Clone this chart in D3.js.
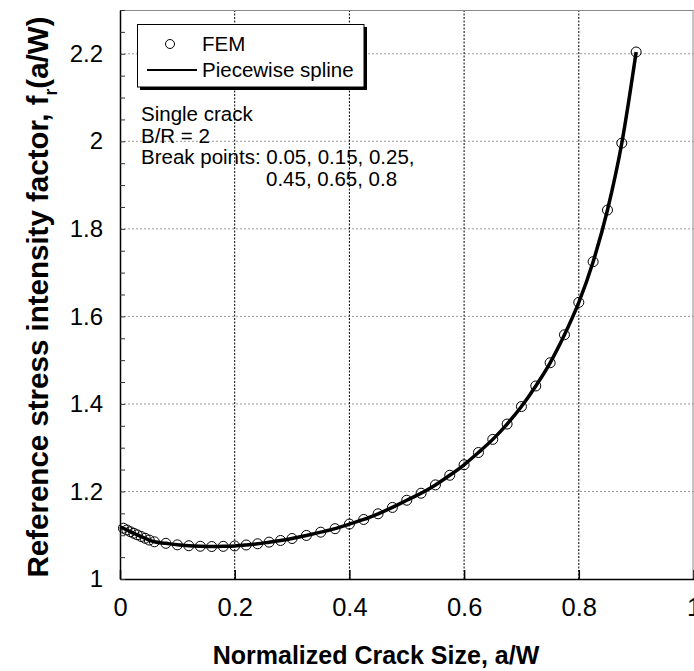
<!DOCTYPE html>
<html>
<head>
<meta charset="utf-8">
<script src="https://cdn.jsdelivr.net/npm/d3@7/dist/d3.min.js"></script>
<style>
  html, body { margin: 0; padding: 0; background: #fff; }
  svg { display: block; font-family: "Liberation Sans", Arial, sans-serif; }
</style>
</head>
<body>
<svg id="chart" width="694" height="671"></svg>
<script>
// FEM results: normalized crack size a/W and reference SIF f_r(a/W)
const femX = [0.006, 0.012, 0.018, 0.024, 0.03, 0.037, 0.044, 0.051, 0.06,
  0.08, 0.10, 0.12, 0.14, 0.16, 0.18, 0.20, 0.22, 0.24, 0.26, 0.28, 0.30,
  0.325, 0.35, 0.375, 0.40, 0.425, 0.45, 0.475, 0.50, 0.525, 0.55, 0.575,
  0.60, 0.625, 0.65, 0.675, 0.70, 0.725, 0.75, 0.775, 0.80, 0.825, 0.85,
  0.875, 0.90];
const femY = [1.116, 1.112, 1.108, 1.1045, 1.101, 1.097, 1.093, 1.089, 1.085,
  1.0815, 1.078, 1.076, 1.0748, 1.0742, 1.0746, 1.0755, 1.0777, 1.0805, 1.0842,
  1.088, 1.0925, 1.0995, 1.107, 1.115, 1.1255, 1.136, 1.149, 1.1635, 1.180,
  1.196, 1.215, 1.237, 1.261, 1.289, 1.319, 1.354, 1.394, 1.441, 1.494,
  1.558, 1.632, 1.725, 1.843, 1.996, 2.204];

// Piecewise spline fit starts at the crack mouth (a/W = 0)
const fitStartX = [0];
const fitStartY = [1.119];

const xTicks = [0, 0.2, 0.4, 0.6, 0.8, 1];
const xTickLabels = ["0", "0.2", "0.4", "0.6", "0.8", "1"];
const yTicks = [1, 1.2, 1.4, 1.6, 1.8, 2, 2.2];
const yTickLabels = ["1", "1.2", "1.4", "1.6", "1.8", "2", "2.2"];

const noteLines = ["Single crack", "B/R = 2", "Break points: 0.05, 0.15, 0.25,"];
const noteLineCont = "0.45, 0.65, 0.8";

const svg = d3.select("#chart");
const plotL = 120, plotR = 693.5, plotT = 10, plotB = 579;

const x = d3.scaleLinear().domain([0, 1]).range([plotL, plotR]);
const y = d3.scaleLinear().domain([1, 2.3]).range([plotB, plotT]);

// horizontal grid (gray, dotted)
svg.append("g").selectAll("line").data(yTicks.slice(1)).join("line")
  .attr("x1", plotL).attr("x2", plotR)
  .attr("y1", d => y(d)).attr("y2", d => y(d))
  .attr("stroke", "#9a9a9a").attr("stroke-width", 1)
  .attr("stroke-dasharray", "2,2");

// vertical grid (black, dotted)
svg.append("g").selectAll("line").data(xTicks.slice(1, -1)).join("line")
  .attr("x1", d => x(d)).attr("x2", d => x(d))
  .attr("y1", plotT).attr("y2", plotB)
  .attr("stroke", "#000").attr("stroke-width", 1)
  .attr("stroke-dasharray", "2,1.5");

// frame: top and right in gray
svg.append("line").attr("x1", plotL).attr("x2", plotR).attr("y1", plotT + 0.5).attr("y2", plotT + 0.5)
  .attr("stroke", "#8a8a8a").attr("stroke-width", 1);
svg.append("line").attr("x1", plotR - 0.5).attr("x2", plotR - 0.5).attr("y1", plotT).attr("y2", plotB)
  .attr("stroke", "#8a8a8a").attr("stroke-width", 1);

// bottom axis: inward major ticks
const xAxis = d3.axisBottom(x).tickValues(xTicks).tickSizeInner(-9).tickSizeOuter(0)
  .tickFormat((d, i) => xTickLabels[i]);
const gx = svg.append("g").attr("transform", `translate(0,${plotB})`).call(xAxis);
gx.select(".domain").attr("stroke", "#000").attr("stroke-width", 1.5);
gx.selectAll(".tick line").attr("stroke", "#000").attr("stroke-width", 1.5);
gx.selectAll(".tick text").attr("font-size", 25.5).attr("fill", "#000")
  .attr("font-family", "Liberation Sans, Arial, sans-serif")
  .attr("y", 37).attr("dy", null);

// left axis: inward minor ticks every 0.05
const minorY = d3.range(0, 27).map(i => 1 + i * 0.05);
const gyMinor = svg.append("g").attr("transform", `translate(${plotL},0)`)
  .call(d3.axisLeft(y).tickValues(minorY).tickSizeInner(-5).tickSizeOuter(0).tickFormat(""));
gyMinor.select(".domain").attr("stroke", "#000").attr("stroke-width", 1.5);
gyMinor.selectAll(".tick line").attr("stroke", "#333").attr("stroke-width", 1);

const gy = svg.append("g").attr("transform", `translate(${plotL},0)`)
  .call(d3.axisLeft(y).tickValues(yTicks).tickSize(0).tickPadding(17)
    .tickFormat((d, i) => yTickLabels[i]));
gy.select(".domain").remove();
gy.selectAll(".tick text").attr("font-size", 24).attr("fill", "#000")
  .attr("font-family", "Liberation Sans, Arial, sans-serif");

// FEM markers
svg.append("g").selectAll("circle").data(femX.map((d, i) => [d, femY[i]])).join("circle")
  .attr("cx", d => x(d[0])).attr("cy", d => y(d[1])).attr("r", 5)
  .attr("fill", "none").attr("stroke", "#000").attr("stroke-width", 1);

// piecewise spline curve
const fitPts = fitStartX.map((d, i) => [d, fitStartY[i]])
  .concat(femX.map((d, i) => [d, femY[i]]));
svg.append("path").datum(fitPts)
  .attr("d", d3.line().x(d => x(d[0])).y(d => y(d[1])).curve(d3.curveMonotoneX))
  .attr("fill", "none").attr("stroke", "#000").attr("stroke-width", 3.5);

// legend
const lg = svg.append("g");
lg.append("rect").attr("x", 140).attr("y", 27).attr("width", 227).attr("height", 63).attr("fill", "#000");
lg.append("rect").attr("x", 137.5).attr("y", 24.5).attr("width", 226.5).attr("height", 62.5)
  .attr("fill", "#fff").attr("stroke", "#000").attr("stroke-width", 1);
lg.append("circle").attr("cx", 170).attr("cy", 44).attr("r", 4.5)
  .attr("fill", "none").attr("stroke", "#000").attr("stroke-width", 1);
lg.append("text").attr("x", 202).attr("y", 51).attr("font-size", 20.5).text("FEM");
lg.append("line").attr("x1", 147).attr("x2", 197).attr("y1", 70).attr("y2", 70)
  .attr("stroke", "#000").attr("stroke-width", 2);
lg.append("text").attr("x", 202).attr("y", 77).attr("font-size", 20.5).text("Piecewise spline");

// annotation
const note = svg.append("g").attr("font-size", 20.5).attr("fill", "#000");
noteLines.forEach((t, i) => {
  note.append("text").attr("x", 141).attr("y", 121 + i * 21.5).text(t);
});
note.append("text").attr("x", 266).attr("y", 121 + 3 * 21.5).text(noteLineCont);

// axis titles
svg.append("text").attr("x", 376).attr("y", 664).attr("text-anchor", "middle")
  .attr("font-size", 25).attr("font-weight", "bold").text("Normalized Crack Size, a/W");

const yt = svg.append("text").attr("transform", "translate(48,297) rotate(-90)")
  .attr("text-anchor", "middle").attr("font-size", 29.5).attr("font-weight", "bold");
yt.append("tspan").text("Reference stress intensity factor, f");
yt.append("tspan").attr("font-size", 17.5).attr("dy", 9).text("r");
yt.append("tspan").attr("dy", -9).text("(a/W)");
</script>
</body>
</html>
